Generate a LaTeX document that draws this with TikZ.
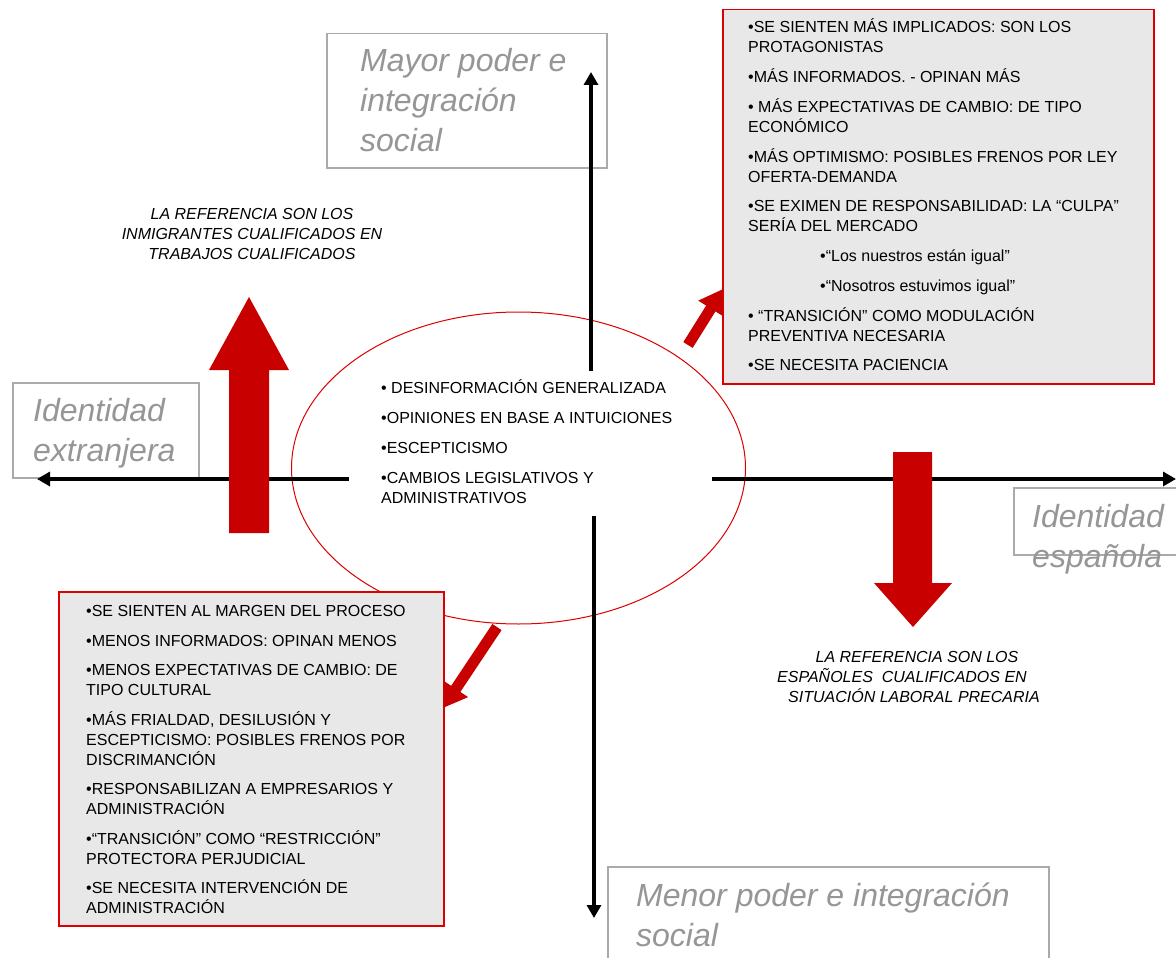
\documentclass[tikz,border=0pt]{standalone}
\usepackage{fontspec}
\setmainfont{Liberation Sans}
\usetikzlibrary{arrows.meta,shapes.geometric}
\definecolor{axred}{RGB}{200,0,0}
\definecolor{boxred}{RGB}{220,0,0}
\definecolor{boxfill}{RGB}{232,232,232}
\definecolor{lblgray}{RGB}{150,150,150}
\definecolor{lblborder}{RGB}{170,170,170}
\begin{document}
\begin{tikzpicture}[x=1pt,y=-1pt,
  txt/.style={anchor=base west, inner sep=0pt, font=\fontsize{16}{20}\selectfont},
  reftxt/.style={anchor=base, inner sep=0pt, font=\fontsize{16}{20}\selectfont\itshape},
  biglbl/.style={anchor=base west, inner sep=0pt, font=\fontsize{32}{40}\selectfont\itshape, text=lblgray},
  lblbox/.style={draw=lblborder, line width=1.5pt, anchor=north west, inner sep=0pt},
  infobox/.style={draw=boxred, fill=boxfill, line width=1.5pt, anchor=north west, inner sep=0pt},
  axisline/.style={line width=4.5pt, -{Triangle[length=13pt,width=14pt]}},
  bigarrow/.style={fill=axred, draw=none},
  diagarrow/.style={draw=axred, line width=11pt, -{Triangle[length=23pt,width=28pt]}},
]
\useasboundingbox (0,0) rectangle (1176,958);
\fill[white] (0,0) rectangle (1176,958);

% central ellipse
\node[ellipse, draw=boxred, line width=1pt, minimum width=454pt, minimum height=312pt, inner sep=0pt] (ell) at (518.5,468) {};

% gray label boxes
\node[lblbox, minimum width=280pt, minimum height=134pt] (mayorbox) at (326,33) {};
\node[lblbox, minimum width=186pt, minimum height=95pt] (extbox) at (12,382) {};
\node[lblbox, minimum width=170pt, minimum height=67pt] (espbox) at (1013,487) {};
\node[lblbox, minimum width=441pt, minimum height=110pt] (menorbox) at (607,866) {};

% axes
\coordinate (upS) at (591,371);
\coordinate (upE) at (591,72);
\coordinate (dnS) at (594,516);
\coordinate (dnE) at (594,918);
\coordinate (lfS) at (349,479);
\coordinate (lfE) at (37,479);
\coordinate (rtS) at (712,479);
\coordinate (rtE) at (1176,479);
\draw[axisline] (upS) -- (upE);
\draw[axisline] (dnS) -- (dnE);
\draw[axisline] (lfS) -- (lfE);
\draw[axisline] (rtS) -- (rtE);

% big red arrows
\fill[bigarrow] (229,533) -- (229,370) -- (209,370) -- (249,297) -- (289,370) -- (269,370) -- (269,533) -- cycle;
\fill[bigarrow] (893,452) -- (893,583) -- (874,583) -- (913,627) -- (952,583) -- (932,583) -- (932,452) -- cycle;

% info boxes
\node[infobox, minimum width=431pt, minimum height=374pt] (trbox) at (722,9) {};
\node[infobox, minimum width=385pt, minimum height=334pt] (blbox) at (58,591) {};

% diagonal arrows
\coordinate (d1s) at (688,345);
\coordinate (d1e) at (723,289);
\coordinate (d2s) at (497,627);
\coordinate (d2e) at (443,708);
\draw[diagarrow] (d1s) -- (d1e);
\draw[diagarrow] (d2s) -- (d2e);

% big labels
\node[biglbl] (may1) at (360,71) {Mayor poder e};
\node[biglbl] (may2) at (360,111) {integración};
\node[biglbl] (may3) at (360,151) {social};
\node[biglbl] (ext1) at (33,421) {Identidad};
\node[biglbl] (ext2) at (33,461) {extranjera};
\node[biglbl] (esp1) at (1032,527) {Identidad};
\node[biglbl] (esp2) at (1032,567) {española};
\node[biglbl] (men1) at (636,906) {Menor poder e integración};
\node[biglbl] (men2) at (636,946) {social};

% reference notes
\node[reftxt] (ra1) at (252,219) {LA REFERENCIA SON LOS};
\node[reftxt] (ra2) at (252,239) {INMIGRANTES CUALIFICADOS EN};
\node[reftxt] (ra3) at (252,259) {TRABAJOS CUALIFICADOS};
\node[reftxt] (rb1) at (917,662) {LA REFERENCIA SON LOS};
\node[reftxt] (rb2) at (902,682) {ESPAÑOLES\ \ CUALIFICADOS EN};
\node[reftxt] (rb3) at (914,702) {SITUACIÓN LABORAL PRECARIA};

% ellipse text
\foreach \myy/\mytext in {387/{• DESINFORMACIÓN GENERALIZADA}, 417/{•OPINIONES EN BASE A INTUICIONES}, 447/{•ESCEPTICISMO}, 477/{•CAMBIOS LEGISLATIVOS Y}, 497/{ADMINISTRATIVOS}}
  \node[txt] (el-\myy) at (381,\myy+6) {\mytext};

% top-right box text
\foreach \myx/\myy/\mytext in {
  748/27/{•SE SIENTEN MÁS IMPLICADOS: SON LOS},
  748/47/{PROTAGONISTAS},
  748/77/{•MÁS INFORMADOS. - OPINAN MÁS},
  748/106/{• MÁS EXPECTATIVAS DE CAMBIO: DE TIPO},
  748/126/{ECONÓMICO},
  748/156/{•MÁS OPTIMISMO: POSIBLES FRENOS POR LEY},
  748/176/{OFERTA-DEMANDA},
  748/205/{•SE EXIMEN DE RESPONSABILIDAD: LA “CULPA”},
  748/225/{SERÍA DEL MERCADO},
  820/255/{•“Los nuestros están igual”},
  820/285/{•“Nosotros estuvimos igual”},
  748/315/{• “TRANSICIÓN” COMO MODULACIÓN},
  748/335/{PREVENTIVA NECESARIA},
  748/364/{•SE NECESITA PACIENCIA}}
  \node[txt] (tr-\myy) at (\myx,\myy+6) {\mytext};

% bottom-left box text
\foreach \myy/\mytext in {
  610/{•SE SIENTEN AL MARGEN DEL PROCESO},
  640/{•MENOS INFORMADOS: OPINAN MENOS},
  669/{•MENOS EXPECTATIVAS DE CAMBIO: DE},
  689/{TIPO CULTURAL},
  719/{•MÁS FRIALDAD, DESILUSIÓN Y},
  739/{ESCEPTICISMO: POSIBLES FRENOS POR},
  759/{DISCRIMANCIÓN},
  788/{•RESPONSABILIZAN A EMPRESARIOS Y},
  808/{ADMINISTRACIÓN},
  838/{•“TRANSICIÓN” COMO “RESTRICCIÓN”},
  858/{PROTECTORA PERJUDICIAL},
  887/{•SE NECESITA INTERVENCIÓN DE},
  907/{ADMINISTRACIÓN}}
  \node[txt] (bl-\myy) at (86,\myy+6) {\mytext};
\end{tikzpicture}
\end{document}
